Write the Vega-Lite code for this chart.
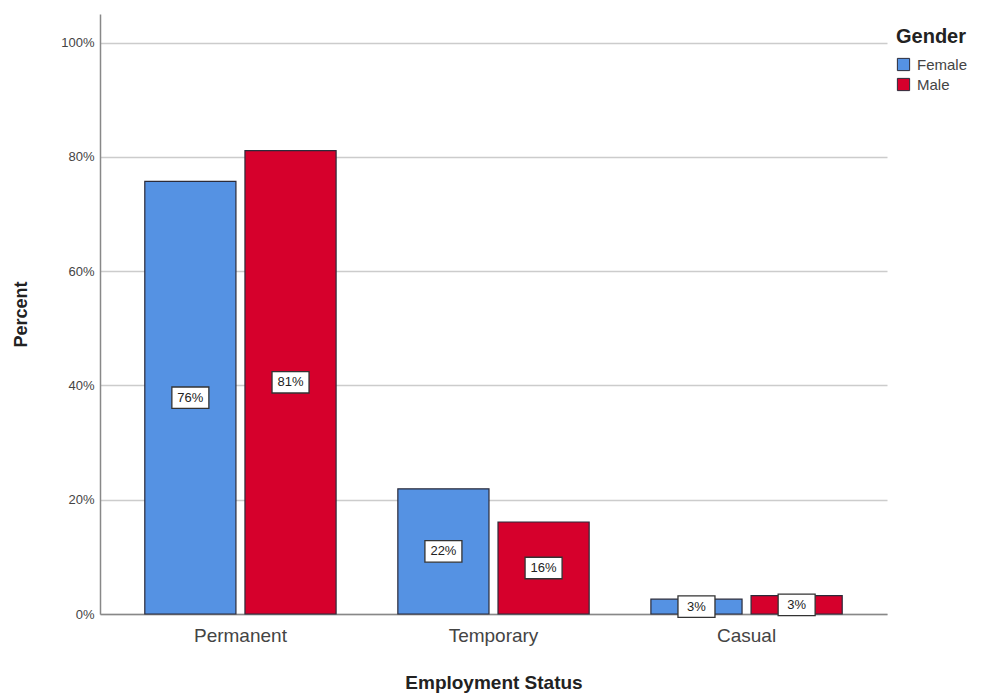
{
  "$schema": "https://vega.github.io/schema/vega-lite/v6.json",
  "width": 787,
  "height": 600,
  "autosize": {"type": "none"},
  "padding": {"left": 100, "top": 14, "right": 96, "bottom": 86},
  "background": "white",
  "config": {
    "font": "Liberation Sans",
    "view": {"stroke": null}
  },
  "data": {
    "values": [
      {"status": "Permanent", "gender": "Female", "value": 75.7, "label": "76%"},
      {"status": "Permanent", "gender": "Male", "value": 81.1, "label": "81%"},
      {"status": "Temporary", "gender": "Female", "value": 21.9, "label": "22%"},
      {"status": "Temporary", "gender": "Male", "value": 16.1, "label": "16%"},
      {"status": "Casual", "gender": "Female", "value": 2.6, "label": "3%"},
      {"status": "Casual", "gender": "Male", "value": 3.2, "label": "3%"}
    ]
  },
  "encoding": {
    "x": {
      "field": "status",
      "type": "nominal",
      "sort": ["Permanent", "Temporary", "Casual"],
      "scale": {"paddingInner": 0.244, "paddingOuter": 0.177},
      "axis": {
        "title": "Employment Status",
        "titleFontSize": 19,
        "titleFontWeight": "bold",
        "titleColor": "#222222",
        "titlePadding": 28,
        "labelAngle": 0,
        "labelFontSize": 19,
        "labelColor": "#444444",
        "labelPadding": 12,
        "ticks": false,
        "domainColor": "#888888",
        "domainWidth": 1.5,
        "grid": false
      }
    },
    "xOffset": {
      "field": "gender",
      "type": "nominal",
      "sort": ["Female", "Male"],
      "scale": {"paddingInner": 0.09, "paddingOuter": 0}
    }
  },
  "layer": [
    {
      "mark": {"type": "bar", "stroke": "#2b2b3a", "strokeWidth": 1.2},
      "encoding": {
        "y": {
          "field": "value",
          "type": "quantitative",
          "scale": {"domain": [0, 105], "nice": false},
          "axis": {
            "title": "Percent",
            "titleFontSize": 18,
            "titleFontWeight": "bold",
            "titleColor": "#222222",
            "titlePadding": 30,
            "values": [0, 20, 40, 60, 80, 100],
            "labelExpr": "datum.value + '%'",
            "labelFontSize": 13,
            "labelColor": "#444444",
            "labelPadding": 6,
            "ticks": false,
            "domainColor": "#888888",
            "domainWidth": 1.5,
            "gridColor": "#cccccc",
            "gridWidth": 1.3
          }
        },
        "color": {
          "field": "gender",
          "type": "nominal",
          "sort": ["Female", "Male"],
          "scale": {"domain": ["Female", "Male"], "range": ["#5592e3", "#d6002c"]},
          "legend": {
            "title": "Gender",
            "orient": "none",
            "legendX": 796,
            "legendY": 13,
            "titleFontSize": 20,
            "titleFontWeight": "bold",
            "titleColor": "#222222",
            "titlePadding": 10,
            "labelFontSize": 15,
            "labelColor": "#444444",
            "labelOffset": 6,
            "symbolType": "square",
            "symbolSize": 150,
            "symbolStrokeColor": "#2b2b3a",
            "symbolStrokeWidth": 1,
            "rowPadding": 3
          }
        }
      }
    },
    {
      "mark": {
        "type": "point",
        "shape": "M-1,-0.58H1V0.58H-1Z",
        "size": 1369,
        "filled": true,
        "fill": "white",
        "stroke": "#333333",
        "strokeWidth": 1.3,
        "opacity": 1
      },
      "encoding": {
        "y": {"field": "value", "type": "quantitative", "scale": {"domain": [0, 210], "nice": false}, "axis": null}
      }
    },
    {
      "mark": {"type": "text", "fontSize": 13, "color": "#222222", "baseline": "middle", "align": "center"},
      "encoding": {
        "y": {"field": "value", "type": "quantitative", "scale": {"domain": [0, 210], "nice": false}, "axis": null},
        "text": {"field": "label"}
      }
    }
  ],
  "resolve": {"scale": {"y": "independent"}}
}
